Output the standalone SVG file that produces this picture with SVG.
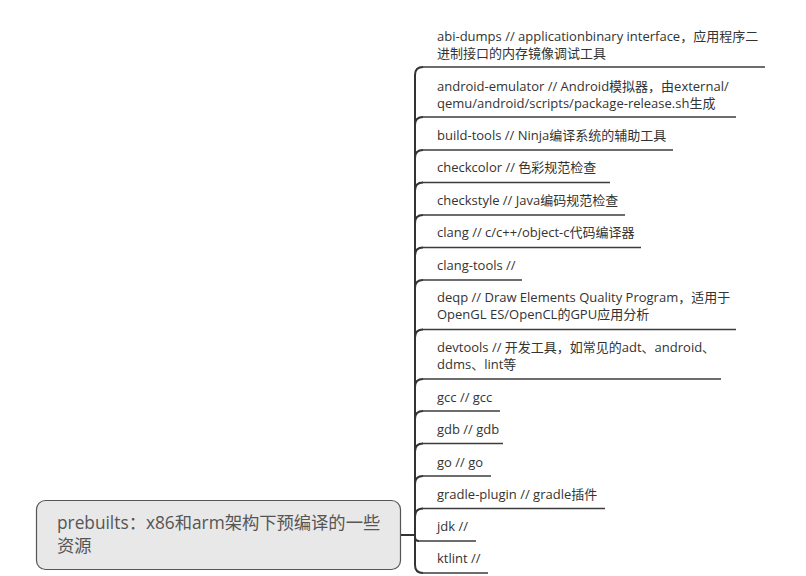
<svg xmlns="http://www.w3.org/2000/svg" width="806" height="576" viewBox="0 0 806 576">
<style>
.t{font-family:"Open Sans","Noto Sans CJK SC",sans-serif;font-size:13px;fill:#333}
.rt{font-family:"Open Sans","Noto Sans CJK SC",sans-serif;font-size:17.3px;fill:#555}
.ul{stroke:#3c3c3c;stroke-width:1.5;fill:none}
.c{stroke:#333;stroke-width:2;fill:none}
</style>
<rect width="806" height="576" fill="#fff"/>
<g id="connectors">
<path class="c" d="M400,535 H415 V75 Q415,67 423,67"/>
<path class="c" d="M415,535 V125 Q415,117 423,117"/>
<path class="c" d="M415,535 V158 Q415,150 423,150"/>
<path class="c" d="M415,535 V190.5 Q415,182.5 423,182.5"/>
<path class="c" d="M415,535 V223 Q415,215 423,215"/>
<path class="c" d="M415,535 V255.5 Q415,247.5 423,247.5"/>
<path class="c" d="M415,535 V288 Q415,280 423,280"/>
<path class="c" d="M415,535 V337.5 Q415,329.5 423,329.5"/>
<path class="c" d="M415,535 V387 Q415,379 423,379"/>
<path class="c" d="M415,535 V419 Q415,411 423,411"/>
<path class="c" d="M415,535 V451.5 Q415,443.5 423,443.5"/>
<path class="c" d="M415,535 V484 Q415,476 423,476"/>
<path class="c" d="M415,535 V516.5 Q415,508.5 423,508.5"/>
<path class="c" d="M415,535 V537 Q415,541 419,541"/>
<path class="c" d="M415,535 V565 Q415,573 423,573"/>
</g>
<g id="root">
<rect x="36.5" y="500.5" width="364" height="69" rx="9" fill="#e8e8e8" stroke="#555" stroke-width="1.2"/>
<text class="rt" x="57" y="529">prebuilts：x86和arm架构下预编译的一些</text>
<text class="rt" x="57" y="552">资源</text>
</g>
<g id="n-abi-dumps">
<text class="t" x="437" y="40.5">abi-dumps // applicationbinary interface，应用程序二</text>
<text class="t" x="437" y="57.5">进制接口的内存镜像调试工具</text>
<path class="ul" d="M422,67 H765"/>
</g>
<g id="n-android-emulator">
<text class="t" x="437" y="90.5">android-emulator // Android模拟器，由external/</text>
<text class="t" x="437" y="107.5">qemu/android/scripts/package-release.sh生成</text>
<path class="ul" d="M422,117 H736"/>
</g>
<g id="n-build-tools">
<text class="t" x="437" y="139.5">build-tools // Ninja编译系统的辅助工具</text>
<path class="ul" d="M422,150 H673"/>
</g>
<g id="n-checkcolor">
<text class="t" x="437" y="172">checkcolor // 色彩规范检查</text>
<path class="ul" d="M422,182.5 H610"/>
</g>
<g id="n-checkstyle">
<text class="t" x="437" y="204.5">checkstyle // Java编码规范检查</text>
<path class="ul" d="M422,215 H625"/>
</g>
<g id="n-clang">
<text class="t" x="437" y="237">clang // c/c++/object-c代码编译器</text>
<path class="ul" d="M422,247.5 H641"/>
</g>
<g id="n-clang-tools">
<text class="t" x="437" y="269.5">clang-tools //</text>
<path class="ul" d="M422,280 H522"/>
</g>
<g id="n-deqp">
<text class="t" x="437" y="302">deqp // Draw Elements Quality Program，适用于</text>
<text class="t" x="437" y="319">OpenGL ES/OpenCL的GPU应用分析</text>
<path class="ul" d="M422,329.5 H736"/>
</g>
<g id="n-devtools">
<text class="t" x="437" y="351.5">devtools // 开发工具，如常见的adt、android、</text>
<text class="t" x="437" y="368.5">ddms、lint等</text>
<path class="ul" d="M422,379 H721"/>
</g>
<g id="n-gcc">
<text class="t" x="437" y="401.5">gcc // gcc</text>
<path class="ul" d="M422,411 H500"/>
</g>
<g id="n-gdb">
<text class="t" x="437" y="434">gdb // gdb</text>
<path class="ul" d="M422,443.5 H503"/>
</g>
<g id="n-go">
<text class="t" x="437" y="466.5">go // go</text>
<path class="ul" d="M422,476 H491"/>
</g>
<g id="n-gradle-plugin">
<text class="t" x="437" y="498.5">gradle-plugin // gradle插件</text>
<path class="ul" d="M422,508.5 H605"/>
</g>
<g id="n-jdk">
<text class="t" x="437" y="530.5">jdk //</text>
<path class="ul" d="M418,541 H476"/>
</g>
<g id="n-ktlint">
<text class="t" x="437" y="562.5">ktlint //</text>
<path class="ul" d="M422,573 H488"/>
</g>
</svg>
